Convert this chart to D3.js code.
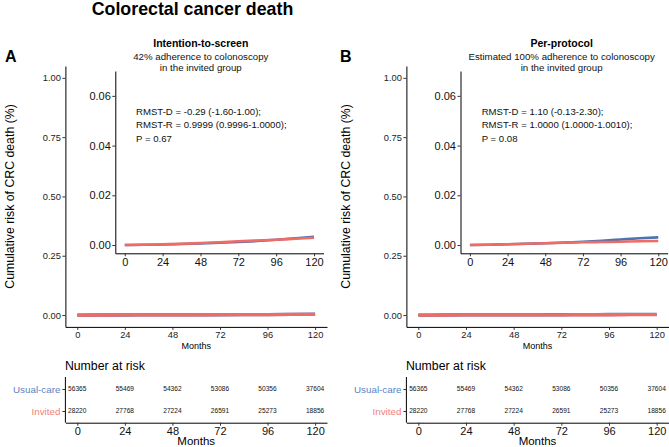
<!DOCTYPE html>
<html>
<head>
<meta charset="utf-8">
<script src="https://cdn.jsdelivr.net/npm/d3@7/dist/d3.min.js"></script>
<style>
  html, body { margin: 0; padding: 0; background: #fff; }
  svg { display: block; font-family: "Liberation Sans", Arial, sans-serif; }
</style>
</head>
<body>
<svg id="chart" width="669" height="447"></svg>
<script>
// ---------------- data ----------------
const months = [0, 12, 24, 36, 48, 60, 72, 84, 96, 108, 120];
const itsUsualCare = [0, 0.0001, 0.0002, 0.0004, 0.0006, 0.0009, 0.0012, 0.0016, 0.0021, 0.0027, 0.0033];
const itsInvited   = [0, 0.0001, 0.0003, 0.0005, 0.0008, 0.0011, 0.0015, 0.0018, 0.0021, 0.0025, 0.0029];
const ppUsualCare  = [0, 0.0001, 0.0003, 0.0005, 0.0007, 0.0010, 0.0013, 0.0017, 0.0022, 0.0027, 0.0031];
const ppInvited    = [0, 0.0001, 0.0003, 0.0005, 0.0007, 0.0009, 0.0011, 0.0012, 0.0013, 0.0015, 0.0016];

const xTicks = [0, 24, 48, 72, 96, 120];
const mainYTicks = [0, 0.25, 0.5, 0.75, 1.0];
const insetYTicks = [0, 0.02, 0.04, 0.06];
const groups = ["Usual-care", "Invited"];
const riskUsualCare = [56365, 55469, 54362, 53086, 50356, 37604];
const riskInvited   = [28220, 27768, 27224, 26591, 25273, 18856];

const panelLetters = ["A", "B"];
const panelTitles = ["Intention-to-screen", "Per-protocol"];
const panelSub1 = ["42% adherence to colonoscopy", "Estimated 100% adherence to colonoscopy"];
const panelSub2 = ["in the invited group", "in the invited group"];
const annotations = [
  ["RMST-D = -0.29 (-1.60-1.00);", "RMST-R = 0.9999 (0.9996-1.0000);", "P = 0.67"],
  ["RMST-D = 1.10 (-0.13-2.30);", "RMST-R = 1.0000 (1.0000-1.0010);", "P = 0.08"]
];
const seriesData = [[itsUsualCare, itsInvited], [ppUsualCare, ppInvited]];

const colBlue = "#4C74B3";
const colRed = "#EE6B66";
const labBlue = "#5B82C2";
const labRed = "#F0827A";

// ---------------- drawing ----------------
const svg = d3.select("#chart");
const font = "'Liberation Sans', Arial, sans-serif";

svg.append("text").attr("x", 192.5).attr("y", 14.5).attr("text-anchor", "middle")
  .attr("font-size", 17.8).attr("font-weight", "bold").attr("fill", "#000")
  .text("Colorectal cancer death");

const layouts = [
  { letterX: 5, axisX: 65.4, xr: [65.4, 327], insetX: [115.3, 323.5], subX: 200.8, annX: 136, ylabX: 14 },
  { letterX: 340, axisX: 406.4, xr: [406.4, 668.6], insetX: [460.5, 667.7], subX: 561.6, annX: 481.7, ylabX: 350 }
];

function styleAxis(g, fs) {
  g.select(".domain").attr("stroke", "#000").attr("stroke-width", 1);
  g.selectAll(".tick line").attr("stroke", "#333").attr("stroke-width", 1);
  g.selectAll(".tick text").attr("fill", "#222").attr("font-size", fs).attr("font-family", font);
}

layouts.forEach((L, i) => {
  // panel letter
  svg.append("text").attr("x", L.letterX).attr("y", 61.5).attr("font-size", 16)
    .attr("font-weight", "bold").text(panelLetters[i]);
  // subtitles
  svg.append("text").attr("x", L.subX).attr("y", 46.5).attr("text-anchor", "middle")
    .attr("font-size", 10.5).attr("font-weight", "bold").text(panelTitles[i]);
  svg.append("text").attr("x", L.subX).attr("y", 59.5).attr("text-anchor", "middle")
    .attr("font-size", 9.7).attr("fill", "#111").text(panelSub1[i]);
  svg.append("text").attr("x", L.subX).attr("y", 70.5).attr("text-anchor", "middle")
    .attr("font-size", 9.7).attr("fill", "#111").text(panelSub2[i]);

  // main plot
  const x = d3.scaleLinear().domain([-6, 126]).range(L.xr);
  const y = d3.scaleLinear().domain([-0.05, 1.05]).range([326.9, 66]);

  const gx = svg.append("g").attr("transform", `translate(0,${326.9})`)
    .call(d3.axisBottom(x).tickValues(xTicks).tickSize(3).tickPadding(1.5).tickSizeOuter(0));
  styleAxis(gx, 9.3);
  const gy = svg.append("g").attr("transform", `translate(${L.axisX},0)`)
    .call(d3.axisLeft(y).tickValues(mainYTicks).tickFormat(d3.format(".2f")).tickSize(3).tickPadding(1.5).tickSizeOuter(0));
  styleAxis(gy, 9.3);

  svg.append("text").attr("x", (x(0) + x(120)) / 2).attr("y", 349).attr("text-anchor", "middle")
    .attr("font-size", 9).text("Months");
  svg.append("text").attr("transform", `translate(${L.ylabX},${196.5}) rotate(-90)`)
    .attr("text-anchor", "middle").attr("font-size", 12.3).text("Cumulative risk of CRC death (%)");

  const line = d3.line().x((d, k) => x(months[k])).y(d => y(d)).curve(d3.curveMonotoneX);
  [colBlue, colRed].forEach((c, s) => {
    svg.append("path").datum(seriesData[i][s]).attr("d", line).attr("fill", "none")
      .attr("stroke", c).attr("stroke-width", 3.3);
  });

  // inset
  const xi = d3.scaleLinear().domain([-6, 126]).range(L.insetX);
  const yi = d3.scaleLinear().domain([-0.00333, 0.07]).range([253.3, 71]);
  const gxi = svg.append("g").attr("transform", `translate(0,${253.3})`)
    .call(d3.axisBottom(xi).tickValues(xTicks).tickSize(3).tickPadding(1.5).tickSizeOuter(0));
  styleAxis(gxi, 11);
  const gyi = svg.append("g").attr("transform", `translate(${L.insetX[0]},0)`)
    .call(d3.axisLeft(yi).tickValues(insetYTicks).tickFormat(d3.format(".2f")).tickSize(3).tickPadding(1.5).tickSizeOuter(0));
  styleAxis(gyi, 11);
  gxi.selectAll(".tick text").attr("fill", "#111");
  gyi.selectAll(".tick text").attr("fill", "#111");

  const linei = d3.line().x((d, k) => xi(months[k])).y(d => yi(d)).curve(d3.curveMonotoneX);
  [colBlue, colRed].forEach((c, s) => {
    svg.append("path").datum(seriesData[i][s]).attr("d", linei).attr("fill", "none")
      .attr("stroke", c).attr("stroke-width", 2.6);
  });

  annotations[i].forEach((t, k) => {
    svg.append("text").attr("x", L.annX).attr("y", 114.5 + k * 13.5).attr("font-size", 9.6)
      .attr("fill", "#111").text(t);
  });

  // risk table
  svg.append("text").attr("x", L.axisX - 0.5).attr("y", 369.5).attr("font-size", 12.3).text("Number at risk");
  const yr = d3.scalePoint().domain(groups).range([389, 411]);
  const gxr = svg.append("g").attr("transform", `translate(0,${422.7})`)
    .call(d3.axisBottom(x).tickValues(xTicks).tickSize(3).tickPadding(1.5).tickSizeOuter(0));
  styleAxis(gxr, 11);
  gxr.selectAll(".tick text").attr("fill", "#111");
  const gyr = svg.append("g").attr("transform", `translate(${L.axisX},0)`)
    .call(d3.axisLeft(yr).tickSize(3).tickPadding(2).tickSizeOuter(0));
  gyr.select(".domain").attr("d", `M0,377V422.7`).attr("stroke", "#000");
  styleAxis(gyr, 9.8);
  gyr.selectAll(".tick text").attr("fill", (d) => d === "Usual-care" ? labBlue : labRed);

  [riskUsualCare, riskInvited].forEach((arr, s) => {
    svg.append("g").selectAll("text").data(arr).join("text")
      .attr("x", (d, k) => x(xTicks[k])).attr("y", yr(groups[s]) + 2.3)
      .attr("text-anchor", "middle").attr("font-size", 6.6).attr("fill", "#111")
      .text(d => d);
  });
  svg.append("text").attr("x", (x(0) + x(120)) / 2).attr("y", 445).attr("text-anchor", "middle")
    .attr("font-size", 11.5).text("Months");
});
</script>
</body>
</html>
